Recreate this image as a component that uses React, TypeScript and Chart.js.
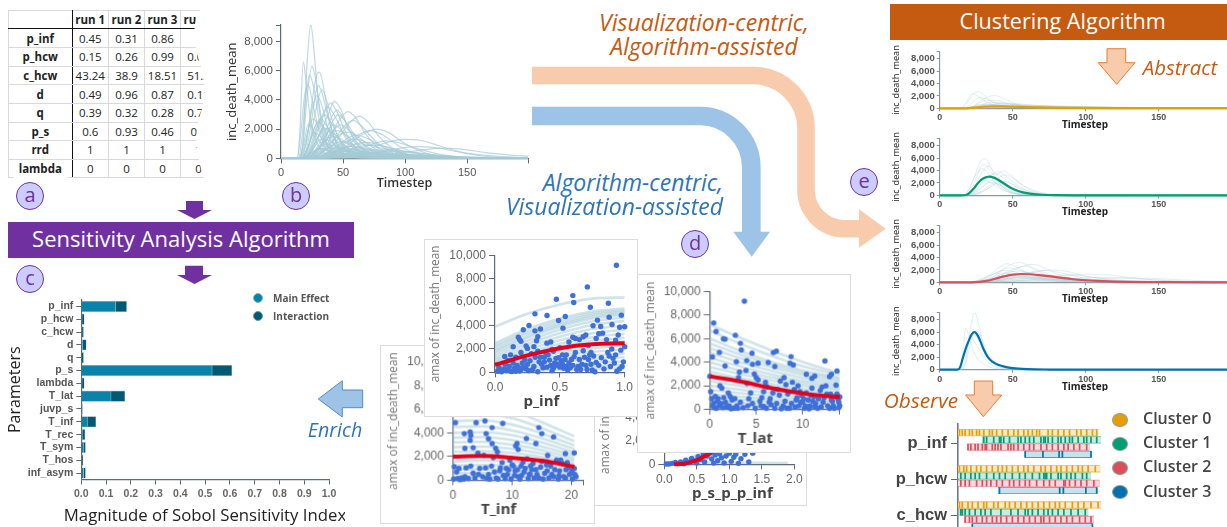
import { useEffect, useRef } from "react";
import Chart from "chart.js/auto";

// ---- table (a)
const tableHeader = ["", "run 1", "run 2", "run 3", "run 4"];
const tableRowNames = ["p_inf", "p_hcw", "c_hcw", "d", "q", "p_s", "rrd", "lambda"];
const tableValues = [
  ["0.45", "0.31", "0.86", ""],
  ["0.15", "0.26", "0.99", "0.08"],
  ["43.24", "38.9", "18.51", "51.2"],
  ["0.49", "0.96", "0.87", "0.11"],
  ["0.39", "0.32", "0.28", "0.72"],
  ["0.6", "0.93", "0.46", "0.5"],
  ["1", "1", "1", "1"],
  ["0", "0", "0", "0"],
];

// ---- time series runs, grouped by cluster: [timestep, inc_death_mean]
const cluster0Runs = [
  [[0,0],[15,0],[18,600],[22,2000],[26,2700],[30,2200],[36,1000],[45,350],[60,80],[199,0]],
  [[0,0],[14,0],[18,900],[22,2350],[25,2100],[30,1300],[38,500],[50,100],[199,0]],
  [[0,0],[18,0],[24,500],[30,1500],[37,2050],[42,1800],[50,900],[62,250],[80,40],[199,0]],
  [[0,0],[16,0],[21,600],[27,1750],[32,1500],[40,800],[52,250],[70,40],[199,0]],
  [[0,0],[17,0],[24,400],[32,1300],[38,1250],[48,700],[60,280],[80,50],[199,0]],
  [[0,0],[18,0],[26,300],[35,950],[44,850],[56,480],[72,170],[95,30],[199,0]],
  [[0,0],[20,0],[30,250],[42,780],[55,700],[70,400],[90,140],[120,20],[199,0]],
  [[0,0],[16,0],[24,350],[30,680],[38,560],[50,240],[68,60],[199,0]],
  [[0,0],[22,0],[34,180],[50,560],[66,480],[85,260],[110,90],[140,15],[199,0]],
  [[0,0],[24,0],[40,150],[60,420],[80,400],[105,220],[135,70],[170,10],[199,0]],
  [[0,0],[18,0],[28,160],[38,400],[50,330],[65,170],[85,50],[199,0]],
  [[0,0],[25,0],[45,120],[70,300],[95,290],[125,170],[160,60],[199,15]],
  [[0,0],[20,0],[30,80],[42,230],[60,190],[80,90],[110,20],[199,0]],
  [[0,0],[28,0],[50,70],[80,180],[115,170],[150,90],[199,25]],
  [[0,0],[22,0],[35,60],[50,130],[75,100],[100,50],[140,10],[199,0]],
  [[0,0],[30,0],[60,40],[100,90],[150,70],[199,30]],
  [[0,0],[18,0],[24,120],[32,500],[40,700],[48,620],[60,330],[78,90],[105,10],[199,0]],
  [[0,0],[16,0],[22,200],[28,560],[34,640],[42,420],[55,150],[75,20],[199,0]],
  [[0,0],[20,0],[30,130],[42,380],[54,480],[66,380],[84,170],[110,30],[199,0]],
  [[0,0],[24,0],[36,90],[52,280],[68,340],[86,260],[110,110],[140,20],[199,0]],
];
const cluster1Runs = [
  [[0,0],[16,0],[20,900],[24,3200],[28,5500],[31,5900],[34,5000],[38,3000],[44,1200],[52,300],[65,30],[199,0]],
  [[0,0],[17,0],[21,800],[25,2800],[28,4500],[30,5000],[33,4500],[38,2800],[45,1000],[55,200],[199,0]],
  [[0,0],[17,0],[22,700],[27,2900],[33,4700],[37,3900],[42,2400],[50,800],[62,120],[199,0]],
  [[0,0],[15,0],[20,1000],[25,3400],[29,4300],[33,3600],[38,2000],[46,600],[60,60],[199,0]],
  [[0,0],[19,0],[25,500],[32,1800],[38,3000],[43,3900],[48,3400],[55,1900],[65,600],[80,70],[199,0]],
  [[0,0],[18,0],[24,600],[30,2000],[36,3300],[40,3800],[45,3200],[52,1800],[62,550],[78,60],[199,0]],
  [[0,0],[18,0],[24,700],[30,2300],[38,3500],[44,2800],[52,1400],[62,420],[78,50],[199,0]],
  [[0,0],[20,0],[27,500],[35,1700],[45,3300],[50,2800],[58,1500],[70,420],[85,50],[199,0]],
  [[0,0],[17,0],[23,700],[29,2200],[35,3000],[40,2500],[48,1200],[60,280],[75,30],[199,0]],
  [[0,0],[16,0],[22,800],[27,2100],[32,2700],[37,2200],[45,1000],[56,240],[70,20],[199,0]],
  [[0,0],[16,0],[21,600],[26,1900],[30,2500],[35,2000],[42,1000],[52,260],[68,20],[199,0]],
  [[0,0],[20,0],[28,500],[36,1500],[42,2300],[48,2000],[56,1100],[68,320],[85,30],[199,0]],
  [[0,0],[18,0],[24,500],[30,1500],[34,2100],[40,1750],[48,900],[60,230],[78,20],[199,0]],
  [[0,0],[21,0],[28,400],[34,1200],[38,1900],[44,1600],[52,850],[64,240],[82,20],[199,0]],
];
const cluster2Runs = [
  [[0,0],[24,0],[30,200],[38,1100],[46,2500],[54,3200],[60,2800],[68,1700],[80,620],[95,130],[120,10],[199,0]],
  [[0,0],[22,0],[28,300],[36,1500],[42,2600],[46,3000],[52,2500],[62,1300],[75,400],[92,60],[199,0]],
  [[0,0],[26,0],[34,250],[44,1100],[54,2300],[63,2900],[70,2500],[80,1400],[95,450],[115,70],[199,0]],
  [[0,0],[24,0],[32,300],[42,1200],[52,2300],[58,2600],[65,2200],[76,1200],[92,320],[115,30],[199,0]],
  [[0,0],[22,0],[30,400],[38,1400],[44,2100],[48,2300],[55,1900],[66,1000],[82,280],[105,30],[199,0]],
  [[0,0],[30,0],[40,200],[52,800],[65,1600],[77,2000],[86,1800],[100,1000],[118,330],[140,50],[199,0]],
  [[0,0],[28,0],[38,250],[50,900],[62,1600],[72,1900],[82,1600],[96,800],[115,220],[140,20],[199,0]],
  [[0,0],[26,0],[36,300],[46,900],[54,1400],[60,1600],[70,1350],[84,700],[102,200],[125,20],[199,0]],
  [[0,0],[34,0],[50,170],[68,550],[85,1080],[100,1300],[112,1240],[128,850],[148,360],[172,80],[199,20]],
  [[0,0],[32,0],[46,200],[62,600],[76,1050],[85,1200],[96,1050],[112,620],[132,220],[160,30],[199,0]],
  [[0,0],[26,0],[38,200],[50,650],[60,950],[65,1000],[75,850],[90,480],[110,150],[135,20],[199,0]],
  [[0,0],[38,0],[58,130],[78,400],[98,720],[110,800],[125,720],[145,420],[170,170],[199,40]],
  [[0,0],[42,0],[65,100],[90,300],[115,590],[130,700],[145,640],[165,400],[185,230],[199,150]],
  [[0,0],[30,0],[45,100],[60,260],[78,470],[90,500],[105,420],[125,220],[150,60],[199,0]],
  [[0,0],[20,0],[26,250],[34,1000],[40,1700],[46,1900],[54,1500],[66,650],[82,140],[105,10],[199,0]],
  [[0,0],[18,0],[24,200],[32,900],[38,1400],[44,1500],[52,1100],[64,450],[80,90],[199,0]],
  [[0,0],[22,0],[30,300],[40,1100],[50,1750],[56,1800],[64,1350],[76,650],[94,130],[199,0]],
  [[0,0],[24,0],[34,200],[44,750],[54,1200],[60,1300],[70,1050],[84,500],[104,90],[199,0]],
  [[0,0],[20,0],[28,150],[36,600],[44,1050],[50,1150],[60,850],[74,330],[92,50],[199,0]],
  [[0,0],[26,0],[36,150],[48,600],[60,1000],[70,1100],[82,850],[98,380],[120,70],[199,0]],
  [[0,0],[28,0],[40,180],[54,560],[68,880],[78,900],[92,640],[110,270],[135,40],[199,0]],
  [[0,0],[22,0],[30,100],[40,420],[50,760],[58,820],[70,600],[88,220],[112,30],[199,0]],
  [[0,0],[24,0],[34,100],[46,360],[58,620],[68,650],[82,460],[100,190],[125,30],[199,0]],
  [[0,0],[30,0],[44,110],[60,360],[76,560],[90,580],[108,400],[130,160],[160,20],[199,0]],
];
const cluster3Runs = [
  [[0,0],[13,20],[15,1500],[18,6600],[20,5400],[24,2500],[30,900],[38,200],[50,30],[199,0]],
  [[0,0],[15,0],[18,1500],[21,6500],[24,9150],[27,7000],[30,3900],[35,1500],[42,400],[55,50],[199,0]],
  [[0,0],[15,20],[18,1200],[21,4200],[25,6300],[28,5400],[32,3000],[38,1200],[46,300],[60,40],[199,0]],
  [[0,0],[14,10],[17,1500],[20,4300],[23,5700],[27,4600],[31,2500],[38,800],[50,100],[199,0]],
  [[0,0],[13,0],[16,1800],[19,4300],[22,5000],[26,3600],[31,1700],[38,500],[50,50],[199,0]],
];
const cluster0Mean = [[0,0],[15,0],[20,30],[25,140],[30,260],[35,320],[42,310],[50,260],[60,190],[75,120],[95,70],[120,40],[150,25],[199,15]];
const cluster1Mean = [[0,0],[15,0],[18,50],[20,300],[23,1000],[26,1900],[29,2600],[32,2950],[34,3020],[37,2850],[40,2500],[44,1900],[48,1300],[52,850],[57,480],[63,230],[70,90],[80,25],[95,0],[199,0]];
const cluster2Mean = [[0,0],[22,0],[27,60],[32,220],[38,580],[44,950],[50,1240],[56,1340],[62,1300],[70,1130],[80,820],[90,530],[100,330],[112,180],[128,70],[150,15],[199,0]];
const cluster3Mean = [[0,0],[12,0],[14,400],[16,2000],[18,3500],[20,4700],[22,5700],[24,6000],[26,5500],[28,4500],[30,3300],[33,2000],[36,1300],[40,800],[45,450],[50,250],[60,90],[75,25],[100,0],[199,0]];

// ---- sobol bars (c)
const sobolParameters = ["p_inf","p_hcw","c_hcw","d","q","p_s","lambda","T_lat","juvp_s","T_inf","T_rec","T_sym","T_hos","inf_asym"];
const sobolMain = [0.139,0.003,0.003,0.005,0.002,0.528,0.003,0.12,0.001,0.024,0.004,0.01,0.002,0.009];
const sobolInteraction = [0.044,0.009,0.006,0.015,0.007,0.08,0.009,0.056,0.003,0.035,0.011,0.007,0.005,0.008];

// ---- scatter panels (d)
const pInfPoints = [[.936,9150],[.712,7300],[.6,6560],[.473,6250],[.607,5970],[.874,5900],[.735,5570],[.308,5000],[.401,4860],[.542,4770],[.974,4890],[.49,4430],[.88,4720],[.79,4460],[.262,4000],[.218,3640],[.308,3550],[.35,3700],[.524,3780],[.756,3980],[.815,3920],[.902,4090],[.961,3860],[1,3900],[.18,3000],[.19,2800],[.2,2650],[.33,3050],[.32,2700],[.14,2200],[.24,2250],[.25,2050],[.075,1360],[.1,1000],[.12,1500],[.16,1300],[.2,1700],[.23,1100],[.28,1600],[.3,2200],[.33,1800],[.35,1300],[.38,900],[.4,2500],[.43,2600],[.45,1800],[.47,1200],[.5,2100],[.52,700],[.55,1500],[.57,2600],[.6,3000],[.62,2900],[.65,2800],[.68,3050],[.7,3200],[.72,2300],[.74,1700],[.76,1400],[.78,2900],[.8,3300],[.83,3350],[.86,2800],[.88,1400],[.9,2000],[.93,1500],[.95,3200],[.97,1900],[1,2200],[.93,2750],[.02,100],[.05,50],[.07,300],[.09,150],[.11,500],[.13,80],[.15,350],[.17,600],[.19,120],[.21,800],[.24,300],[.27,1000],[.3,500],[.33,60],[.36,700],[.38,1300],[.4,450],[.42,1050],[.44,150],[.46,800],[.49,1250],[.51,1000],[.53,350],[.55,500],[.57,800],[.59,1100],[.61,1350],[.64,500],[.66,250],[.68,1850],[.7,600],[.72,1100],[.78,850],[.77,50],[.82,1250],[.84,300],[.87,1700],[.92,800],[.94,100],[.98,500],[.41,1500],[.44,1950],[.62,1700],[.74,700],[.03,400],[.06,200],[.08,700],[.1,250],[.12,100],[.14,800],[.16,100],[.18,450],[.2,250],[.22,450],[.25,700],[.26,150],[.29,250],[.31,1300],[.34,900],[.37,400],[.39,1700],[.43,600],[.45,350],[.48,700],[.5,450],[.52,1500],[.54,1100],[.56,200],[.58,400],[.6,600],[.63,250],[.65,1100],[.67,700],[.69,1300],[.71,250],[.73,1500],[.75,200],[.8,600],[.85,900],[.89,500],[.91,1200],[.96,300],[.99,900],[.47,600]];
const tLatPoints = [[3.73,9180],[.43,7340],[.68,6600],[1.47,5980],[1.65,5950],[2.76,6290],[3.3,5610],[3.4,5040],[4.55,4760],[1.04,4840],[.29,4450],[6.85,4820],[7.17,4930],[8.75,4480],[8.64,3910],[9,3770],[12.4,4110],[13.7,3260],[13.1,2970],[12.9,2780],[10.4,2970],[11,2630],[11.3,2830],[2.87,4050],[3.98,4140],[4.6,3820],[5.2,3910],[6.3,3970],[7,3630],[1.65,3680],[3.2,3170],[0,2800],[.1,1500],[.2,900],[.4,500],[.5,150],[.6,1100],[.8,700],[1,300],[1.1,2000],[1.3,1800],[1.5,1000],[1.8,200],[2,1400],[2.2,1100],[2.4,800],[2.6,100],[2.9,300],[3.1,2700],[3.3,600],[3.6,150],[3.9,3300],[4,2200],[4.2,900],[4.4,1400],[4.6,500],[4.8,3000],[5,2700],[5.2,2500],[5.4,700],[5.6,1000],[5.8,250],[6,2300],[6.2,1900],[6.5,900],[6.8,1400],[7,100],[7.3,1700],[7.5,1200],[7.6,2400],[7.9,300],[8,2700],[8.2,2100],[8.4,1300],[8.6,100],[8.9,2300],[9.1,1700],[9.3,800],[9.5,2000],[9.6,300],[9.9,1200],[10,600],[10.2,100],[10.4,1400],[10.6,800],[10.8,300],[11,1800],[11.2,1100],[11.4,500],[11.6,100],[11.9,1600],[12.1,1900],[12.3,1000],[12.5,2000],[12.7,300],[13,1300],[13.2,700],[13.4,100],[13.6,2050],[13.7,1300],[13.8,900],[14,1050],[13.9,150],[5.8,1500],[6.6,400],[9.7,1500],[.3,300],[.7,100],[.9,900],[1.2,500],[1.4,150],[1.7,600],[2.1,300],[2.3,50],[2.7,900],[3,100],[4.1,300],[4.9,100],[5.5,300],[6.1,100],[6.4,600],[7.2,500],[7.7,50],[8.1,700],[8.3,100],[8.8,500],[9.2,200],[9.4,1000],[9.8,600],[10.1,900],[10.3,300],[10.7,50],[10.9,1200],[11.1,700],[11.3,200],[11.7,900],[12,200],[12.2,600],[12.6,1300],[12.9,100],[13.1,800],[13.3,300],[13.5,1100],[13.9,600],[14,300]];
const tInfPoints = [[.4,4870],[3.9,4870],[5.4,5010],[8.4,4790],[6.6,4450],[1.9,3940],[2.9,4080],[5.6,3940],[14.5,4450],[15,3940],[17,3660],[12.4,3520],[10.8,3100],[14,3100],[20.5,2310],[19,2250],[6.6,3100],[2.9,3380],[3,3800],[6,3500],[7.2,2700],[7.5,2400],[10.6,2900],[11,2600],[2,2700],[3.4,2750],[4.2,2300],[5.2,2100],[6.8,1900],[8.3,1500],[9,1000],[9.6,1700],[10,1300],[10.5,800],[11,300],[11.5,1200],[12,700],[12.5,1800],[13,500],[13.5,1400],[14,900],[14.5,200],[15,1600],[15.5,600],[16,2100],[16.5,1200],[17,300],[17.5,1700],[18,800],[18.5,1400],[19,200],[19.5,1100],[20,600],[20.5,1000],[20.8,300],[.2,1150],[.6,700],[1,1000],[1.4,200],[1.8,100],[2.2,1050],[2.6,150],[3,1200],[3.4,600],[4.5,1000],[5,300],[5.5,1050],[6,500],[6.5,1200],[7.6,100],[8,1050],[8.5,400],[9.2,500],[9.8,100],[10.2,1200],[11.6,400],[12.7,150],[13.3,900],[14.8,1100],[16.2,200],[17.8,100],[18.2,1700],[19.3,1500],[20.2,100],[15.8,1300],[7.9,800],[.1,100],[.8,150],[1.2,50],[2,300],[3.7,200],[4.3,500],[5.7,150],[6.2,100],[7,700],[7.3,200],[8.8,150],[9.4,900],[10.4,400],[10.9,900],[11.3,100],[12.2,1000],[12.9,500],[13.7,200],[14.2,500],[15.2,100],[15.9,800],[16.7,500],[17.2,900],[17.9,400],[18.7,300],[19.1,900],[19.7,500],[20.1,800],[20.6,500],[11.8,1500],[13.1,1200]];
const pSPoints = [[.03,30],[.07,20],[.12,80],[.17,150],[.2,60],[.25,200],[.3,50],[.33,350],[.38,150],[.42,500],[.46,280],[.5,100],[.52,650],[.56,400],[.6,850],[.62,200],[.66,700],[.7,950],[.73,450],[.76,100],[.78,800],[.82,300],[.85,900],[.88,550],[.92,120],[.95,700],[1,950],[1.03,250],[1.07,600],[1.1,850],[1.14,80],[1.18,480],[1.24,850],[1.3,200],[1.36,950]];

const pInfGrid = [0, 0.25, 0.5, 0.75, 1];
const pInfFits = [[3900,5000,5800,6300,6400],[2500,3700,4600,5200,5450],[2300,3500,4400,5050,5300],[2150,3300,4200,4900,5200],[1950,3100,4050,4750,5050],[1800,2950,3900,4600,4950],[1600,2700,3650,4350,4700],[1400,2450,3350,4050,4400],[1200,2200,3050,3700,4000],[1050,1950,2750,3350,3650],[900,1700,2450,3000,3300],[800,1500,2200,2700,2950],[650,1300,1900,2400,2650],[500,1100,1650,2050,2300],[400,900,1400,1750,1950],[300,750,1150,1450,1600],[200,550,900,1150,1300],[130,400,650,850,950],[60,250,420,550,620],[20,120,220,300,340]];
const tLatGrid = [0, 3.5, 7, 10.5, 14];
const tLatFits = [[7190,6000,4900,3900,3070],[6700,5500,4450,3550,2950],[6000,4900,3950,3200,2700],[5600,4600,3750,3050,2550],[5200,4300,3500,2850,2400],[4800,3950,3200,2600,2200],[4400,3600,2900,2350,2000],[4000,3250,2650,2150,1800],[3600,2950,2400,1950,1650],[3200,2600,2100,1700,1450],[2800,2300,1850,1500,1250],[2400,1950,1600,1300,1100],[2000,1650,1350,1100,900],[1650,1350,1100,900,750],[1300,1050,850,700,600],[950,800,650,520,430],[650,530,430,350,290],[350,290,240,190,160]];
const tInfGrid = [0, 5, 10, 15, 20.5];
const tInfFits = [[6300,6350,5900,4900,3700],[5600,5650,5250,4400,3300],[5000,5050,4700,3950,2950],[4500,4550,4200,3550,2650],[4000,4050,3800,3200,2350],[3600,3650,3400,2850,2100],[3200,3250,3000,2550,1850],[2800,2850,2650,2250,1650],[2400,2450,2300,1950,1400],[2000,2050,1900,1600,1150],[1600,1650,1550,1300,950],[1250,1280,1200,1000,720],[900,920,860,720,520],[600,620,580,480,350],[300,310,290,240,170]];
const pSGrid = [0.15, 0.5, 1, 1.5, 1.9];
const pSFits = [[0,120,130,120,110],[0,300,800,1500,2100],[0,450,1300,2500,3500],[0,600,1800,3400,4800],[0,800,2400,4500,6300]];
const pInfMean = [[0,650],[.25,1450],[.5,2070],[.75,2400],[1,2480]];
const tLatMean = [[0,2800],[3.5,2330],[7,1750],[10.5,1300],[14,1050]];
const tInfMean = [[0,2000],[5,2050],[10,1900],[15,1650],[20.5,1150]];
const pSMean = [[.15,0],[.3,50],[.5,350],[.7,950],[1,2000],[1.5,3500]];

// ---- strips (bottom right), run positions along each parameter per cluster
const stripParameters = ["p_inf", "p_hcw", "c_hcw"];
const stripSpans = [
  [[0,.98],[.17,1],[.066,.92],[.466,.934]],
  [[0,.995],[0,.93],[0,.99],[.28,.975]],
  [[0,1],[.01,.91],[.045,.95],[.1,.94]],
];
const stripMarks = [
  [
    [.01,.03,.05,.08,.1,.13,.15,.18,.22,.24,.27,.31,.35,.39,.42,.46,.49,.52,.55,.57,.63,.66,.7,.74,.78,.83,.86,.9,.94,.97],
    [.18,.2,.25,.29,.3,.32,.36,.42,.44,.47,.5,.53,.58,.6,.61,.63,.66,.7,.72,.75,.78,.8,.84,.88,.9,.93,.97],
    [.07,.09,.12,.14,.17,.19,.2,.24,.26,.28,.3,.35,.37,.39,.42,.46,.5,.53,.58,.62,.66,.7,.74,.77,.81,.85,.9],
    [.47,.594,.707,.73,.93],
  ],
  [
    [.01,.04,.06,.09,.13,.16,.2,.24,.28,.31,.34,.38,.42,.46,.49,.53,.58,.61,.65,.69,.72,.76,.8,.84,.87,.91,.96],
    [.02,.05,.09,.12,.15,.2,.25,.29,.33,.38,.43,.47,.52,.57,.6,.61,.62,.65,.7,.72,.76,.79,.82,.87,.9],
    [.02,.05,.08,.13,.17,.2,.23,.27,.31,.36,.39,.43,.47,.5,.55,.6,.64,.68,.74,.75,.78,.82,.86,.9,.95],
    [.29,.711,.737,.894,.97],
  ],
  [
    [.01,.03,.07,.1,.14,.18,.2,.25,.28,.33,.36,.4,.44,.48,.52,.56,.6,.64,.68,.71,.75,.8,.84,.88,.93,.98],
    [.02,.03,.05,.08,.12,.16,.19,.23,.3,.37,.42,.47,.49,.52,.56,.6,.63,.66,.7,.74,.79,.84,.89],
    [.05,.08,.1,.13,.17,.2,.24,.27,.3,.34,.38,.42,.46,.5,.54,.58,.6,.64,.68,.72,.76,.8,.85,.89,.93],
    [.1,.94],
  ],
];

const clusterNames = ["Cluster 0", "Cluster 1", "Cluster 2", "Cluster 3"];
const clusterColors = ["#e69f00", "#009e73", "#d94f5c", "#0072b2"];
const clusterLight = ["#fbeac6", "#cdeae1", "#f8d9dc", "#c8e1ef"];
const clusterEdge = ["rgba(230,170,40,.8)", "rgba(60,170,140,.8)", "rgba(225,120,130,.8)", "rgba(70,140,190,.9)"];

const allRuns = [...cluster0Runs, ...cluster1Runs, ...cluster2Runs, ...cluster3Runs];

const sans = "'Liberation Sans', Arial, sans-serif";
const open = "'Open Sans', sans-serif";
const axisColor = "#5b6b7b";

type Box = { x: number; y: number; w: number; h: number };
type Area = { l: number; t: number; r: number; b: number };

const grouped = (v: number) => v.toLocaleString("en-US");
const oneDecimal = (v: number) => v.toFixed(1);
const plain = (v: number) => String(v);

// ticks with a small d3 style outer tick at the axis end
function axis(min: number, max: number, step: number, format: (v: number) => string, font: any, color: string, size: number) {
  return {
    type: "linear",
    min,
    max,
    afterBuildTicks: (s: any) => {
      const values: any[] = [];
      for (let i = 0; min + i * step <= max + 1e-9; i++) values.push({ value: min + i * step });
      if (Math.abs(values[values.length - 1].value - max) > 1e-6) values.push({ value: max });
      s.ticks = values;
    },
    ticks: {
      autoSkip: false,
      maxRotation: 0,
      padding: 3,
      color,
      font,
      callback: (v: number) => {
        const k = (v - min) / step;
        return Math.abs(k - Math.round(k)) > 1e-6 ? "" : format(v);
      },
    },
    grid: { drawOnChartArea: false, color: axisColor, tickLength: size, lineWidth: 1 },
    border: { color: axisColor, width: 1.2 },
  };
}

function frame(box: Box, area: Area, xAxis: any, yAxis: any) {
  xAxis.afterFit = (s: any) => { s.height = box.y + box.h - area.b; };
  yAxis.afterFit = (s: any) => { s.width = area.l - box.x; };
  return {
    animation: false,
    responsive: false,
    maintainAspectRatio: false,
    events: [],
    layout: { padding: { left: 0, bottom: 0, top: area.t - box.y, right: box.x + box.w - area.r } },
    plugins: { legend: { display: false }, tooltip: { enabled: false } },
    scales: { x: xAxis, y: yAxis },
  };
}

function titleY(box: Box, text: string, pageX: number, font: any, color: string) {
  return { display: true, text, color, font: { ...font, lineHeight: 1 }, padding: { top: pageX - box.x - font.size / 2, bottom: 0 } };
}
function titleX(box: Box, text: string, pageY: number, font: any, color: string) {
  return { display: true, text, color, font: { ...font, lineHeight: 1 }, padding: { top: 0, bottom: box.y + box.h - pageY - font.size / 2 } };
}

const thinLine = (data: any, color: string, width: number, order: number) => ({
  data,
  showLine: true,
  borderColor: color,
  borderWidth: width,
  pointRadius: 0,
  cubicInterpolationMode: "monotone",
  order,
});

// ---- chart b
function overviewConfig(box: Box) {
  const area = { l: 281, t: 25, r: 528, b: 158.4 };
  const x = axis(0, 199, 50, plain, { family: sans, size: 11 }, "#555", 5) as any;
  const y = axis(0, 9130, 2000, grouped, { family: sans, size: 11.5 }, "#555", 5) as any;
  x.title = titleX(box, "Timestep", 183, { family: open, size: 12.5, weight: "600" }, "#333");
  y.title = titleY(box, "inc_death_mean", 232.5, { family: open, size: 13 }, "#333");
  return {
    type: "scatter",
    data: { datasets: allRuns.map((r) => thinLine(r, "rgba(165,203,214,0.72)", 1.2, 1)) },
    options: frame(box, area, x, y),
  };
}

// ---- chart e
function clusterConfig(box: Box, zeroY: number, runs: any[], mean: any, color: string) {
  const area = { l: 939.7, t: zeroY - 59.3, r: 1230.2, b: zeroY };
  const x = axis(0, 199, 50, plain, { family: sans, size: 9, weight: "bold" }, "#555", 3) as any;
  const y = axis(0, 9120, 2000, grouped, { family: sans, size: 9.5, weight: "bold" }, "#555", 3) as any;
  x.grid.color = "#8a97a5"; x.border.color = "#8a97a5";
  y.grid.color = "#8a97a5"; y.border.color = "#8a97a5";
  x.ticks.padding = 1;
  y.ticks.padding = 2;
  x.title = titleX(box, "Timestep", zeroY + 17, { family: open, size: 10, weight: "bold" }, "#222");
  y.title = titleY(box, "inc_death_mean", 896, { family: open, size: 9.2 }, "#222");
  return {
    type: "scatter",
    data: {
      datasets: [
        { ...thinLine(mean, color, 2.2, 0), clip: false },
        ...runs.map((r) => thinLine(r, "rgba(170,205,215,0.34)", 1, 1)),
      ],
    },
    options: frame(box, area, x, y),
  };
}

// small plugin: axis titles that do not sit on the axis centre or run wider than the axis
const freeTitle = {
  id: "freeTitle",
  afterDatasetsDraw(chart: any, _args: any, opts: any) {
    if (!opts.text) return;
    const { ctx } = chart;
    ctx.save();
    ctx.font = `${opts.weight || 700} ${opts.size}px ${open}`;
    ctx.fillStyle = opts.color || "#444";
    ctx.textAlign = "center";
    ctx.textBaseline = "middle";
    ctx.fillText(opts.text, opts.x, opts.y);
    ctx.restore();
  },
};

// ---- chart c
function sobolConfig(box: Box) {
  const area = { l: 81.3, t: 300, r: 329, b: 479.5 };
  const x = axis(0, 1, 0.1, oneDecimal, { family: sans, size: 10.5, weight: "bold" }, "#666", 5) as any;
  x.stacked = true;
  const y: any = {
    type: "category",
    stacked: true,
    offset: true,
    ticks: { color: "#555", font: { family: sans, size: 10.5, weight: "bold" }, padding: 3, autoSkip: false },
    grid: { drawOnChartArea: false, color: axisColor, tickLength: 5, offset: false },
    border: { color: axisColor, width: 1.2 },
    title: titleY(box, "Parameters", 15, { family: open, size: 16 }, "#222"),
  };
  const edge = "rgba(200,200,200,.9)";
  const options: any = { ...frame(box, area, x, y), indexAxis: "y" };
  options.plugins.freeTitle = { text: "Magnitude of Sobol Sensitivity Index", size: 16.75, weight: 400, color: "#222", x: 205 - box.x, y: 516 - box.y };
  return {
    type: "bar",
    plugins: [freeTitle],
    data: {
      labels: sobolParameters,
      datasets: [
        { label: "Main Effect", data: sobolMain, backgroundColor: "#0a83ab", borderColor: edge, borderWidth: 0.6, barThickness: 10.5 },
        { label: "Interaction", data: sobolInteraction, backgroundColor: "#005a74", borderColor: edge, borderWidth: 0.6, barThickness: 10.5 },
      ],
    },
    options,
  };
}

// ---- chart d
function panelConfig(
  box: Box, area: Area, xMax: number, xStep: number, xFormat: (v: number) => string, name: string, titleAt: number[],
  points: any, grid: number[], fits: number[][], mean: any
) {
  const tick = { family: sans, size: 12 };
  const x = axis(0, xMax, xStep, xFormat, tick, "#666", 5) as any;
  const y = axis(0, 10000, 2000, grouped, tick, "#666", 6) as any;
  y.title = titleY(box, "amax of inc_death_mean", area.l - 59, { family: open, size: 11.8 }, "#777");
  const options: any = frame(box, area, x, y);
  options.plugins.freeTitle = { text: name, size: 15, x: titleAt[0] - box.x, y: titleAt[1] - box.y };
  return {
    type: "scatter",
    plugins: [freeTitle],
    data: {
      datasets: [
        { ...thinLine(mean, "#e2001a", 4, 0), clip: false },
        { data: points, pointRadius: 2.7, pointBackgroundColor: "#3f6fd8", pointBorderWidth: 0, clip: false, order: 1 },
        ...fits.map((f) => thinLine(f.map((v, i) => [grid[i], v]), "rgba(175,208,218,0.6)", 2.6, 2)),
      ],
    },
    options,
  };
}

// ---- rug strips
function stripConfig(box: Box) {
  const area = { l: 958, t: 420, r: 1101, b: 532.3 };
  const y: any = {
    type: "linear",
    min: -0.54,
    max: 2.455,
    reverse: true,
    afterBuildTicks: (s: any) => { s.ticks = [{ value: 0 }, { value: 1 }, { value: 2 }]; },
    afterFit: (s: any) => { s.width = area.l - box.x; },
    ticks: { color: "#444", font: { family: sans, size: 16.5, weight: "bold" }, padding: 4, callback: (v: number) => stripParameters[v] },
    grid: { drawOnChartArea: false, color: "#5b6b7b", tickLength: 7 },
    border: { color: "#6a7a8a", width: 1.6 },
  };
  const datasets: any[] = [];
  stripMarks.forEach((group, g) => {
    group.forEach((marks, c) => {
      const row = g + (c - 1.5) * 0.2;
      const [from, to] = stripSpans[g][c];
      const span = [[from, row], [to, row]];
      datasets.push({ data: marks.map((m) => [m, row]), pointStyle: "line", rotation: 90, pointRadius: 3.2, pointBorderWidth: 1.7, pointBorderColor: clusterColors[c], clip: false, order: 0 });
      datasets.push({ data: span, showLine: true, pointRadius: 0, borderColor: clusterLight[c], borderWidth: 5.6, clip: false, order: 1 });
      datasets.push({ data: span, showLine: true, pointRadius: 0, borderColor: clusterEdge[c], borderWidth: 7.2, clip: false, order: 2 });
    });
  });
  return {
    type: "scatter",
    data: { datasets },
    options: {
      animation: false,
      responsive: false,
      maintainAspectRatio: false,
      events: [],
      layout: { padding: { left: 0, top: area.t - box.y, right: box.x + box.w - area.r, bottom: box.y + box.h - area.b } },
      plugins: { legend: { display: false }, tooltip: { enabled: false } },
      scales: { x: { type: "linear", min: 0, max: 1, display: false }, y },
    },
  };
}

function Plot({ box, config, z }: { box: Box; config: (b: Box) => any; z?: number }) {
  const ref = useRef<HTMLCanvasElement | null>(null);
  useEffect(() => {
    if (!ref.current) return;
    const chart = new Chart(ref.current, config(box));
    return () => chart.destroy();
  }, []);
  return (
    <canvas
      ref={ref}
      width={box.w}
      height={box.h}
      style={{ position: "absolute", left: box.x, top: box.y, width: box.w, height: box.h, zIndex: z }}
    />
  );
}

function Panel({ box, config, z }: { box: Box; config: (b: Box) => any; z: number }) {
  return (
    <>
      <div style={{ position: "absolute", left: box.x, top: box.y, width: box.w, height: box.h, boxSizing: "border-box", background: "#fff", border: "1.5px solid #dcdcdc", zIndex: z }} />
      <Plot box={box} config={config} z={z} />
    </>
  );
}

function Label({ text, x, y, size, color, italic, weight, align, font }: any) {
  const shift = align === "right" ? "-100%" : align === "left" ? "0" : "-50%";
  return (
    <div
      style={{
        position: "absolute", left: x, top: y, transform: `translate(${shift}, -50%)`, whiteSpace: "nowrap",
        fontFamily: font || open, fontSize: size, color, fontStyle: italic ? "italic" : "normal", fontWeight: weight || 400, lineHeight: 1,
      }}
    >
      {text}
    </div>
  );
}

function Badge({ letter, x, y }: { letter: string; x: number; y: number }) {
  return (
    <div
      style={{
        position: "absolute", left: x - 14, top: y - 14, width: 28, height: 28, boxSizing: "border-box", borderRadius: "50%",
        background: "#ccccff", border: "1.5px solid #7030a0", color: "#7030a0", fontFamily: open, fontSize: 20,
        display: "flex", alignItems: "center", justifyContent: "center", lineHeight: 1, paddingBottom: 2, zIndex: 20,
      }}
    >
      {letter}
    </div>
  );
}

function Dot({ x, y, w, h, color, border }: any) {
  return (
    <div style={{ position: "absolute", left: x - w / 2, top: y - h / 2, width: w, height: h, boxSizing: "border-box", borderRadius: "50%", background: color, border: `1px solid ${border || "#999"}` }} />
  );
}

function Arrows() {
  return (
    <svg width={1227} height={527} style={{ position: "absolute", left: 0, top: 0 }}>
      <path d="M532 75.5 H753 A53 53 0 0 1 806 128.5 V190 A39 39 0 0 0 845 228.7 H860" fill="none" stroke="#f8cbad" strokeWidth={17.6} />
      <polygon points="859,209.3 885.7,228.7 859,247.7" fill="#f8cbad" />
      <path d="M532 116 H700 A51.3 51.3 0 0 1 751.3 167.3 V232" fill="none" stroke="#9dc3e6" strokeWidth={18.7} />
      <polygon points="733.3,231.7 770,231.7 751.7,256.7" fill="#9dc3e6" />
      <polygon points="186,201 203,201 203,210 212,210 194.5,219 177,210 186,210" fill="#7030a0" />
      <polygon points="185,265.7 203,265.7 203,275 212,275 194.5,284 177,275 185,275" fill="#7030a0" />
      <polygon points="1107,48.7 1125.7,48.7 1125.7,62.7 1135,62.7 1116.7,84.3 1098.3,62.7 1107,62.7" fill="#f8cbad" stroke="#ed7d31" />
      <polygon points="974.3,381 992.7,381 992.7,395 1001.7,395 983.3,416.7 965.7,395 974.3,395" fill="#f8cbad" stroke="#ed7d31" />
      <polygon points="318.3,399 342.3,380.7 342.3,390 362.7,390 362.7,407.7 342.3,407.7 342.3,417" fill="#9dc3e6" stroke="#4f8cc9" />
    </svg>
  );
}

function ParameterTable() {
  const border = "1px solid #d9d9d9";
  const cell: any = { border, padding: 0, textAlign: "center", overflow: "hidden", whiteSpace: "nowrap" };
  return (
    <div style={{ position: "absolute", left: 0, top: 0, width: 225, height: 195, clipPath: "path('M7 10 L200 10 C192 25,193 40,199 60 C206 80,207 95,200 115 C194 135,196 150,205 184 C190 176,170 178,150 183 C120 190,100 186,70 178 C50 172,25 172,7 180 Z')" }}>
      <table style={{ position: "absolute", left: 8, top: 10, borderCollapse: "collapse", tableLayout: "fixed", width: 208, fontFamily: open, fontSize: 11.5, color: "#222" }}>
        <colgroup>
          <col style={{ width: 63.5 }} />
          <col style={{ width: 36.5 }} />
          <col style={{ width: 36 }} />
          <col style={{ width: 36 }} />
          <col style={{ width: 36 }} />
        </colgroup>
        <thead>
          <tr style={{ height: 18.3 }}>
            {tableHeader.map((h, i) => (
              <th key={i} style={{ ...cell, fontWeight: 700, borderBottom: "1.2px solid #111", borderRight: i === 0 ? "1.2px solid #111" : border }}>{h}</th>
            ))}
          </tr>
        </thead>
        <tbody>
          {tableRowNames.map((name, r) => (
            <tr key={name} style={{ height: 18.65 }}>
              <th style={{ ...cell, fontWeight: 700, borderRight: "1.2px solid #111" }}>{name}</th>
              {tableValues[r].map((v, c) => (
                <td key={c} style={cell}>{v}</td>
              ))}
            </tr>
          ))}
        </tbody>
      </table>
    </div>
  );
}

export default function App() {
  useEffect(() => {
    document.body.style.margin = "0";
    document.body.style.background = "#fff";
  }, []);
  return (
    <div style={{ position: "relative", width: 1227, height: 527, overflow: "hidden", background: "#fff", filter: "blur(0.5px)" }}>
      <Arrows />
      <ParameterTable />

      <Plot box={{ x: 225, y: 10, w: 315, h: 183 }} config={overviewConfig} />

      <div style={{ position: "absolute", left: 8, top: 221.7, width: 346, height: 36, background: "#7030a0" }} />
      <Label text="Sensitivity Analysis Algorithm" x={181} y={238} size={22} color="#fff" />
      <Plot box={{ x: 0, y: 290, w: 345, h: 237 }} config={sobolConfig} />
      <Dot x={258} y={298} w={10} h={10} color="#0a83ab" border="#7fb6c8" />
      <Dot x={258} y={315.7} w={10} h={10} color="#005a74" border="#6f9aa8" />
      <Label text="Main Effect" x={273} y={298} size={10} color="#555" weight={700} align="left" />
      <Label text="Interaction" x={273} y={315.7} size={10} color="#555" weight={700} align="left" />

      <Panel
        box={{ x: 588, y: 328, w: 219, h: 178 }} z={1}
        config={(b) => panelConfig(b, { l: 664.3, t: 346.7, r: 794.3, b: 464.3 }, 2, 0.5, oneDecimal, "p_s_p_p_inf", [732.3, 493.3], pSPoints, pSGrid, pSFits, pSMean)}
      />
      <Panel
        box={{ x: 380, y: 345, w: 214.5, h: 178.5 }} z={2}
        config={(b) => panelConfig(b, { l: 452.7, t: 361.7, r: 582.7, b: 480 }, 22, 10, plain, "T_inf", [498, 508.7], tInfPoints, tInfGrid, tInfFits, tInfMean)}
      />
      <Panel
        box={{ x: 637.3, y: 274.3, w: 213.7, h: 178.4 }} z={3}
        config={(b) => panelConfig(b, { l: 709.7, t: 291.7, r: 839.8, b: 409.3 }, 14, 5, plain, "T_lat", [755, 438], tLatPoints, tLatGrid, tLatFits, tLatMean)}
      />
      <Panel
        box={{ x: 424.3, y: 239, w: 214, h: 178.3 }} z={4}
        config={(b) => panelConfig(b, { l: 495.3, t: 255.3, r: 625, b: 372.7 }, 1, 0.5, oneDecimal, "p_inf", [541.7, 402], pInfPoints, pInfGrid, pInfFits, pInfMean)}
      />

      <Plot box={{ x: 888, y: 44, w: 360, h: 86 }} config={(b) => clusterConfig(b, 108.3, cluster0Runs, cluster0Mean, clusterColors[0])} />
      <Plot box={{ x: 888, y: 131, w: 360, h: 86 }} config={(b) => clusterConfig(b, 195.3, cluster1Runs, cluster1Mean, clusterColors[1])} />
      <Plot box={{ x: 888, y: 218, w: 360, h: 86 }} config={(b) => clusterConfig(b, 282.3, cluster2Runs, cluster2Mean, clusterColors[2])} />
      <Plot box={{ x: 888, y: 305, w: 360, h: 86 }} config={(b) => clusterConfig(b, 369.7, cluster3Runs, cluster3Mean, clusterColors[3])} />

      <Plot box={{ x: 880, y: 410, w: 235, h: 150 }} config={stripConfig} />
      {clusterNames.map((name, i) => (
        <div key={name}>
          <Dot x={1120} y={[420, 444, 467.7, 492][i]} w={16} h={14} color={clusterColors[i]} />
          <Label text={name} x={1143} y={[418, 442, 466, 491][i]} size={16} color="#444" weight={600} align="left" />
        </div>
      ))}

      <div style={{ position: "absolute", left: 890, top: 4, width: 337, height: 36, background: "#c55a11" }} />
      <Label text="Clustering Algorithm" x={1062.7} y={21} size={21.6} color="#fff" />

      <Label text="Visualization-centric," x={704} y={22} size={23} color="#c55a11" italic />
      <Label text="Algorithm-assisted" x={704} y={46} size={23} color="#c55a11" italic />
      <Label text="Algorithm-centric," x={723} y={182} size={23} color="#2e75b6" italic align="right" />
      <Label text="Visualization-assisted" x={723} y={206} size={23} color="#2e75b6" italic align="right" />
      <Label text="Enrich" x={335} y={430} size={19.7} color="#2e75b6" italic />
      <Label text="Abstract" x={1180} y={67} size={20.4} color="#c55a11" italic />
      <Label text="Observe" x={921} y={400} size={20.8} color="#c55a11" italic />

      <Badge letter="a" x={30} y={196} />
      <Badge letter="b" x={296} y={196} />
      <Badge letter="c" x={30} y={279.3} />
      <Badge letter="d" x={695} y={244} />
      <Badge letter="e" x={864} y={181.7} />
    </div>
  );
}
